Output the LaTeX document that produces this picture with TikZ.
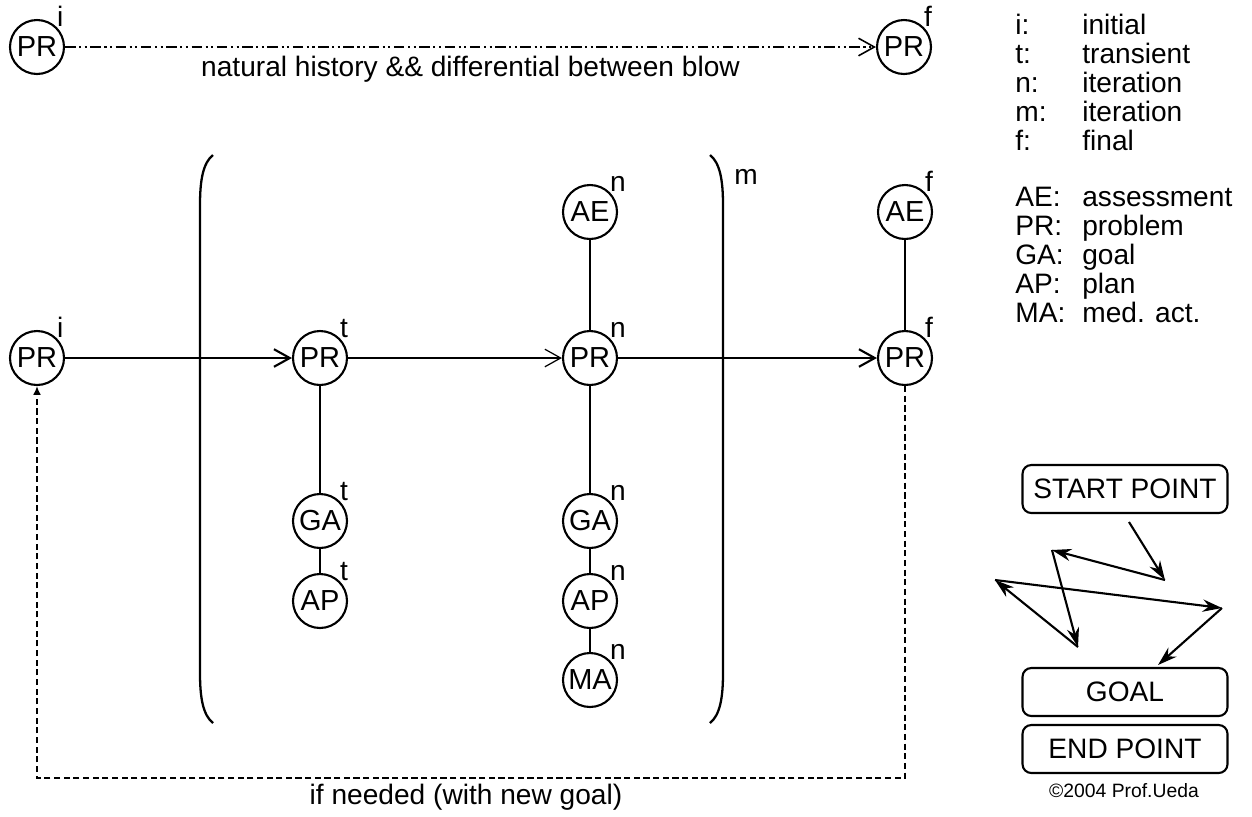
\documentclass[tikz,border=0pt]{standalone}
\usepackage{fontspec}
\setmainfont{Liberation Sans}
\usepackage{tikz}
\usetikzlibrary{arrows.meta, positioning}

\begin{document}
\begin{tikzpicture}[
    x=0.02cm, y=-0.02cm,
    every node/.style={font=\fontsize{16}{16.5}\selectfont, inner sep=2pt},
    every label/.style={inner sep=0pt},
    state/.style={circle, draw, line width=1.2pt, minimum size=1.08cm, inner sep=0pt, label distance=2.4mm, font=\fontsize{16.5}{16.5}\selectfont},
    flow/.style={line width=1.2pt, -{Straight Barb[length=9pt, width=10pt]}},
    link/.style={line width=1.2pt},
    history/.style={line width=0.9pt, dash pattern=on 6pt off 2pt on 1.2pt off 2pt on 1.2pt off 2pt, -{Straight Barb[length=9pt, width=10pt]}},
    back/.style={line width=1.1pt, dash pattern=on 3.5pt off 2pt, -{Latex[length=5pt, width=4.5pt]}},
    paren/.style={line width=1.3pt},
    box/.style={rectangle, draw, line width=1.2pt, rounded corners=5pt, minimum width=4.1cm, minimum height=0.96cm},
    zig/.style={line width=1.2pt, -{Stealth[length=11pt, width=7pt]}}
]
    \useasboundingbox (0,0) rectangle (1252,816);

    % Nodes
    \node[state, label={45:i}] (pritop) at (37,47) {PR};
    \node[state, label={45:f}] (prftop) at (904,47) {PR};

    \node[state, label={45:i}] (pri) at (37,358) {PR};
    \node[state, label={45:t}] (prt) at (320,358) {PR};
    \node[state, label={45:n}] (prn) at (590,358) {PR};
    \node[state, label={45:f}] (prf) at (905,358) {PR};
    \node[state, label={45:n}] (aen) at (590,212) {AE};
    \node[state, label={45:f}] (aef) at (905,212) {AE};
    \node[state, label={45:t}] (gat) at (320,521) {GA};
    \node[state, label={45:t}] (apt) at (320,601) {AP};
    \node[state, label={45:n}] (gan) at (590,521) {GA};
    \node[state, label={45:n}] (apn) at (590,601) {AP};
    \node[state, label={45:n}] (man) at (590,680) {MA};

    \node (mexp) at (746,177) {m};
    \coordinate (loopbot) at (470,778);
    \node (needed) at (466,797) {if needed (with new goal)};

    % legend
    \node[anchor=base west, inner sep=0pt] (keys) at (1015,34) {\begin{tabular}[t]{@{}p{1.34cm}@{}l@{}}
        i: & initial\\ t: & transient\\ n: & iteration\\ m: & iteration\\ f: & final
    \end{tabular}};
    \node[anchor=base west, inner sep=0pt] (abbr) at (1015,206) {\begin{tabular}[t]{@{}p{1.34cm}@{}l@{}}
        AE: & assessment\\ PR: & problem\\ GA: & goal\\ AP: & plan\\ MA: & med. act.
    \end{tabular}};

    \node[box] (start) at (1125,489) {START POINT};
    \node[box] (goal) at (1125,692) {GOAL};
    \node[box] (end) at (1125,749) {END POINT};
    \node[font=\fontsize{11}{12}\selectfont] (copy) at (1124,791) {©2004 Prof.Ueda};

    \coordinate (z0) at (1129,522);
    \coordinate (z1) at (1165,580);
    \coordinate (z2) at (1052,550);
    \coordinate (z3) at (1078,647);
    \coordinate (z4) at (995,580);
    \coordinate (z5) at (1222,608);
    \coordinate (z6) at (1158,665);

    % Paths
    \draw[history] (pritop) -- node[below=3pt] (histlabel) {natural history \&\& differential between blow} (prftop);

    \draw[paren] (213,155) .. controls (203,163) and (200,180) .. (200,205) -- (200,673) .. controls (200,698) and (203,715) .. (213,723);
    \draw[paren] (710,155) .. controls (720,163) and (723,180) .. (723,205) -- (723,673) .. controls (723,698) and (720,715) .. (710,723);

    \draw[flow] (pri) -- (prt);
    \draw[flow, line width=0.7pt] (prt) -- (prn);
    \draw[flow] (prn) -- (prf);
    \draw[link] (prt) -- (gat);
    \draw[link] (gat) -- (apt);
    \draw[link] (aen) -- (prn);
    \draw[link] (prn) -- (gan);
    \draw[link] (gan) -- (apn);
    \draw[link] (apn) -- (man);
    \draw[link] (aef) -- (prf);
    \draw[back] (prf) |- (loopbot) -| (pri);

    \draw[zig] (z0) -- (z1);
    \draw[zig] (z1) -- (z2);
    \draw[zig] (z2) -- (z3);
    \draw[zig] (z3) -- (z4);
    \draw[zig] (z4) -- (z5);
    \draw[zig] (z5) -- (z6);
\end{tikzpicture}
\end{document}
